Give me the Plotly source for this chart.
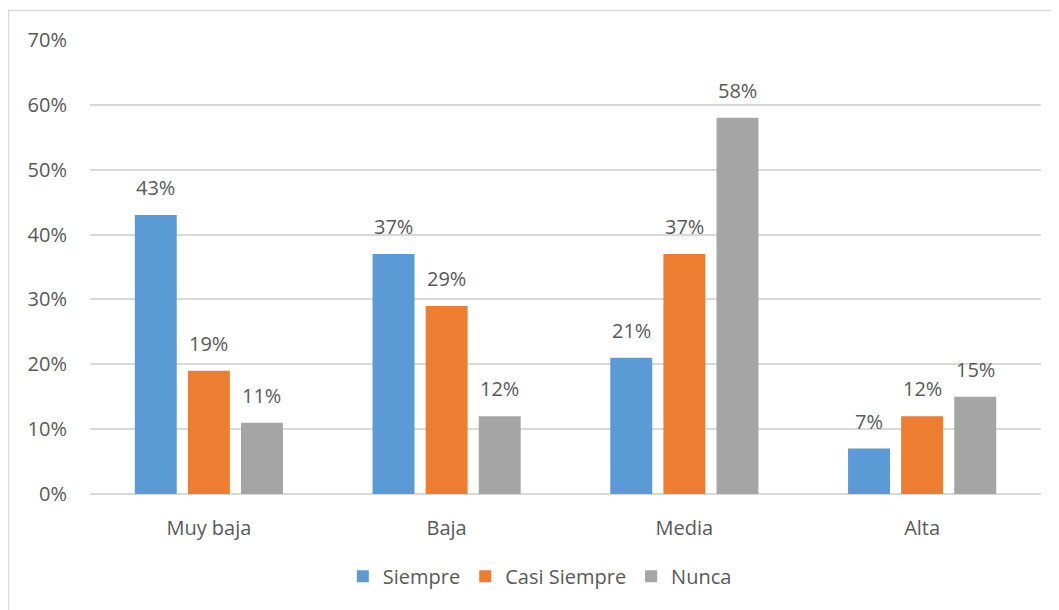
import plotly.graph_objects as go

categories = ["Muy baja", "Baja", "Media", "Alta"]
series_names = ["Siempre", "Casi Siempre", "Nunca"]
siempre = [0.43, 0.37, 0.21, 0.07]
casi_siempre = [0.19, 0.29, 0.37, 0.12]
nunca = [0.11, 0.12, 0.58, 0.15]
y_ticks = [0, 0.1, 0.2, 0.3, 0.4, 0.5, 0.6, 0.7]

COLORS = ["#5B9BD5", "#ED7D31", "#A5A5A5"]
TEXT = "#595959"
FONT = "Open Sans, Liberation Sans, sans-serif"
FS = 20

fig = go.Figure()
annotations = []
for i, (name, vals) in enumerate(zip(series_names, [siempre, casi_siempre, nunca])):
    fig.add_trace(go.Bar(
        x=categories, y=vals, name=name,
        marker=dict(color=COLORS[i], line=dict(width=0)),
        hoverinfo="x+y+name",
    ))
    for c, v in zip(categories, vals):
        annotations.append(dict(
            x=c, y=v, xref="x", yref="y",
            text=f"{round(v * 100)}%", showarrow=False,
            xshift=(i - 1) * 53, yanchor="bottom", yshift=12,
            font=dict(color=TEXT, size=FS, family=FONT),
        ))

# page body has an 8px margin, so margins are shifted to land the plot area in place
fig.update_layout(
    width=1059, height=610,
    paper_bgcolor="white", plot_bgcolor="white",
    margin=dict(l=82, r=26, t=32, b=124),
    barmode="group", bargap=0.33, bargroupgap=0.21,
    font=dict(family=FONT, color=TEXT, size=FS),
    showlegend=True,
    legend=dict(orientation="h", x=0.473, xanchor="center", y=-0.138, yanchor="top",
                font=dict(size=FS, color=TEXT), itemwidth=30, traceorder="normal"),
    annotations=annotations,
    shapes=[dict(type="rect", xref="paper", yref="paper",
                 x0=-0.0857, x1=1.05, y0=-0.5, y1=1.065,
                 line=dict(color="#D9D9D9", width=1.5), layer="below")],
    xaxis=dict(showgrid=False, showline=False, ticks="", ticklabelstandoff=20,
               tickfont=dict(size=FS, color=TEXT)),
    yaxis=dict(range=[0, 0.7], tickvals=y_ticks, tickformat=".0%",
               gridcolor="#D9D9D9", gridwidth=1.5, zeroline=True, zerolinecolor="#D9D9D9",
               zerolinewidth=1.5, showline=False, ticks="", ticklabelstandoff=22,
               tickfont=dict(size=FS, color=TEXT)),
)

fig.write_html("out.html")
